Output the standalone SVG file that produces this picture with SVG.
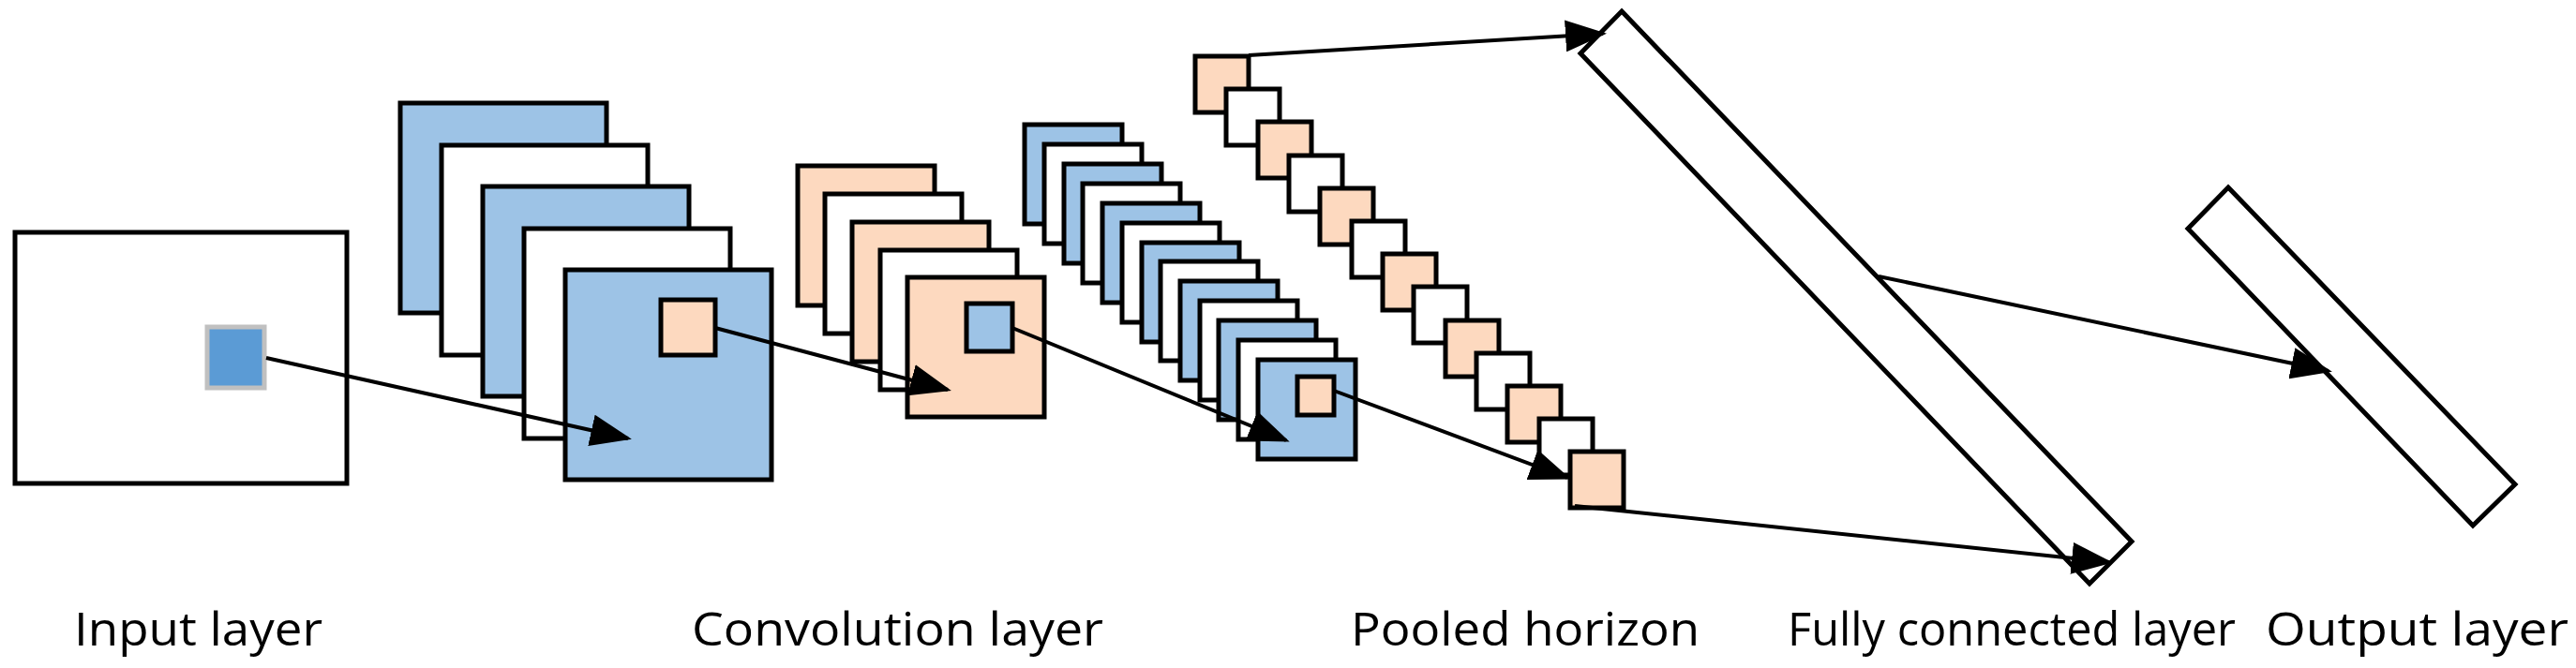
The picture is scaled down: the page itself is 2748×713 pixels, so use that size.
<svg xmlns="http://www.w3.org/2000/svg" width="2748" height="713" viewBox="0 0 2748 713">
<style>
.b{fill:#9dc3e6;stroke:#000;stroke-width:5}
.w{fill:#fff;stroke:#000;stroke-width:5}
.p{fill:#fdd9bf;stroke:#000;stroke-width:5}
.c{stroke:#000;stroke-width:4;fill:none;marker-end:url(#ah)}
text{font-family:"Open Sans","Liberation Sans",sans-serif;font-size:50px;fill:#000}
</style>
<defs><marker id="ah" markerUnits="userSpaceOnUse" markerWidth="44" markerHeight="34" refX="40" refY="17" orient="auto"><path d="M0,0L44,17L0,34Z" fill="#000"/></marker></defs>
<g id="input"><rect class="w" x="16" y="248" width="354" height="268"/><rect x="221" y="349" width="61" height="65" fill="#5b9bd5" stroke="#c0c0c0" stroke-width="5"/></g>
<g id="conv1">
<rect class="b" x="427" y="110" width="220" height="224"/>
<rect class="w" x="471" y="155" width="220" height="224"/>
<rect class="b" x="515" y="199" width="220" height="224"/>
<rect class="w" x="559" y="244" width="220" height="224"/>
<rect class="b" x="603" y="288" width="220" height="224"/>
<rect class="p" x="705" y="320" width="58" height="59"/></g>
<g id="conv2">
<rect class="p" x="851" y="177" width="146" height="149"/>
<rect class="w" x="880" y="207" width="146" height="149"/>
<rect class="p" x="909" y="237" width="146" height="149"/>
<rect class="w" x="939" y="267" width="146" height="149"/>
<rect class="p" x="968" y="296" width="146" height="149"/>
<rect class="b" x="1031" y="324" width="49" height="51"/></g>
<g id="conv3">
<rect class="b" x="1093" y="133" width="104" height="106"/>
<rect class="w" x="1114" y="154" width="104" height="106"/>
<rect class="b" x="1135" y="175" width="104" height="106"/>
<rect class="w" x="1155" y="196" width="104" height="106"/>
<rect class="b" x="1176" y="217" width="104" height="106"/>
<rect class="w" x="1197" y="238" width="104" height="106"/>
<rect class="b" x="1218" y="259" width="104" height="106"/>
<rect class="w" x="1238" y="279" width="104" height="106"/>
<rect class="b" x="1259" y="300" width="104" height="106"/>
<rect class="w" x="1280" y="321" width="104" height="106"/>
<rect class="b" x="1300" y="342" width="104" height="106"/>
<rect class="w" x="1321" y="363" width="104" height="106"/>
<rect class="b" x="1342" y="384" width="104" height="106"/>
<rect class="p" x="1384" y="402" width="39" height="41"/></g>
<g id="pooled">
<rect class="p" x="1275" y="60" width="57" height="60"/>
<rect class="w" x="1308" y="95" width="57" height="60"/>
<rect class="p" x="1342" y="130" width="57" height="60"/>
<rect class="w" x="1375" y="166" width="57" height="60"/>
<rect class="p" x="1408" y="201" width="57" height="60"/>
<rect class="w" x="1442" y="236" width="57" height="60"/>
<rect class="p" x="1475" y="271" width="57" height="60"/>
<rect class="w" x="1508" y="306" width="57" height="60"/>
<rect class="p" x="1542" y="342" width="57" height="60"/>
<rect class="w" x="1575" y="377" width="57" height="60"/>
<rect class="p" x="1608" y="412" width="57" height="60"/>
<rect class="w" x="1642" y="447" width="57" height="60"/>
<rect class="p" x="1675" y="482" width="57" height="60"/></g>
<g id="fc"><polygon class="w" stroke-width="4" points="1730,12 2274,578 2229,623 1686,57"/></g>
<g id="output"><polygon class="w" stroke-width="4" points="2377,200 2683,517 2638,561 2334,244"/></g>
<g id="connectors">
<line class="c" x1="284" y1="382" x2="670" y2="468"/>
<line class="c" x1="763" y1="350" x2="1011" y2="416"/>
<line class="c" x1="1080" y1="350" x2="1372" y2="470"/>
<line class="c" x1="1423" y1="417" x2="1672" y2="510"/>
<line class="c" x1="1332" y1="59" x2="1710" y2="36"/>
<line class="c" x1="1680" y1="540" x2="2250" y2="600"/>
<line class="c" x1="2004" y1="295" x2="2484" y2="396"/>
</g>
<g id="labels">
<text x="79" y="689" textLength="265" lengthAdjust="spacingAndGlyphs">Input layer</text>
<text x="738" y="689" textLength="439" lengthAdjust="spacingAndGlyphs">Convolution layer</text>
<text x="1441" y="689" textLength="372" lengthAdjust="spacingAndGlyphs">Pooled horizon</text>
<text x="1907" y="689" textLength="478" lengthAdjust="spacingAndGlyphs">Fully connected layer</text>
<text x="2417" y="689" textLength="323" lengthAdjust="spacingAndGlyphs">Output layer</text>
</g>
</svg>
